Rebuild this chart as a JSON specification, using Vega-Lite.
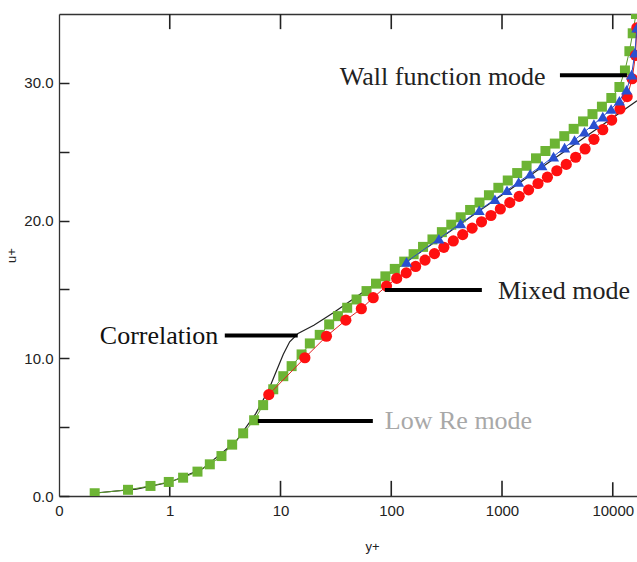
{
  "$schema": "https://vega.github.io/schema/vega-lite/v6.json",
  "width": 578,
  "height": 482,
  "autosize": {"type": "none"},
  "padding": {"left": 59, "top": 14, "right": 0, "bottom": 66},
  "background": "white",
  "config": {
    "view": {"stroke": null},
    "axis": {
      "labelFont": "Liberation Sans",
      "titleFont": "Liberation Sans",
      "labelColor": "#222",
      "titleColor": "#222",
      "domainColor": "#333",
      "tickColor": "#333",
      "domainWidth": 1.3,
      "tickWidth": 1.3,
      "grid": false,
      "labelFontSize": 15,
      "titleFontSize": 13,
      "titleFontWeight": "normal"
    }
  },
  "datasets": {
    "curves": [
      {"series": "Low Re mode", "yplus": 0.21, "uplus": 0.2},
      {"series": "Low Re mode", "yplus": 0.42, "uplus": 0.45},
      {"series": "Low Re mode", "yplus": 0.67, "uplus": 0.73},
      {"series": "Low Re mode", "yplus": 0.98, "uplus": 1.02},
      {"series": "Low Re mode", "yplus": 1.32, "uplus": 1.33},
      {"series": "Low Re mode", "yplus": 1.78, "uplus": 1.77},
      {"series": "Low Re mode", "yplus": 2.3, "uplus": 2.3},
      {"series": "Low Re mode", "yplus": 2.93, "uplus": 2.9},
      {"series": "Low Re mode", "yplus": 3.66, "uplus": 3.73},
      {"series": "Low Re mode", "yplus": 4.6, "uplus": 4.55},
      {"series": "Low Re mode", "yplus": 5.78, "uplus": 5.5},
      {"series": "Low Re mode", "yplus": 6.97, "uplus": 6.6},
      {"series": "Low Re mode", "yplus": 8.6, "uplus": 7.75},
      {"series": "Low Re mode", "yplus": 10.6, "uplus": 8.7},
      {"series": "Low Re mode", "yplus": 12.6, "uplus": 9.43},
      {"series": "Low Re mode", "yplus": 15.5, "uplus": 10.28},
      {"series": "Low Re mode", "yplus": 18.4, "uplus": 11.08},
      {"series": "Low Re mode", "yplus": 22.6, "uplus": 11.7},
      {"series": "Low Re mode", "yplus": 27.5, "uplus": 12.46},
      {"series": "Low Re mode", "yplus": 33, "uplus": 13.06},
      {"series": "Low Re mode", "yplus": 40, "uplus": 13.67},
      {"series": "Low Re mode", "yplus": 48.6, "uplus": 14.27},
      {"series": "Low Re mode", "yplus": 59.8, "uplus": 14.88},
      {"series": "Low Re mode", "yplus": 72.8, "uplus": 15.42},
      {"series": "Low Re mode", "yplus": 88.5, "uplus": 15.95},
      {"series": "Low Re mode", "yplus": 107.6, "uplus": 16.49},
      {"series": "Low Re mode", "yplus": 130.9, "uplus": 17.02},
      {"series": "Low Re mode", "yplus": 159.2, "uplus": 17.56},
      {"series": "Low Re mode", "yplus": 193.6, "uplus": 18.09},
      {"series": "Low Re mode", "yplus": 235.5, "uplus": 18.63},
      {"series": "Low Re mode", "yplus": 286.4, "uplus": 19.16},
      {"series": "Low Re mode", "yplus": 348.3, "uplus": 19.7},
      {"series": "Low Re mode", "yplus": 423.6, "uplus": 20.24},
      {"series": "Low Re mode", "yplus": 515.2, "uplus": 20.77},
      {"series": "Low Re mode", "yplus": 626.6, "uplus": 21.31},
      {"series": "Low Re mode", "yplus": 762.1, "uplus": 21.84},
      {"series": "Low Re mode", "yplus": 926.8, "uplus": 22.38},
      {"series": "Low Re mode", "yplus": 1127, "uplus": 22.91},
      {"series": "Low Re mode", "yplus": 1371, "uplus": 23.45},
      {"series": "Low Re mode", "yplus": 1667, "uplus": 23.98},
      {"series": "Low Re mode", "yplus": 2028, "uplus": 24.52},
      {"series": "Low Re mode", "yplus": 2466, "uplus": 25.05},
      {"series": "Low Re mode", "yplus": 2999, "uplus": 25.59},
      {"series": "Low Re mode", "yplus": 3648, "uplus": 26.13},
      {"series": "Low Re mode", "yplus": 4436, "uplus": 26.66},
      {"series": "Low Re mode", "yplus": 5395, "uplus": 27.2},
      {"series": "Low Re mode", "yplus": 6561, "uplus": 27.73},
      {"series": "Low Re mode", "yplus": 7980, "uplus": 28.27},
      {"series": "Low Re mode", "yplus": 9705, "uplus": 28.9},
      {"series": "Low Re mode", "yplus": 11482, "uplus": 29.7},
      {"series": "Low Re mode", "yplus": 12882, "uplus": 30.9},
      {"series": "Low Re mode", "yplus": 14125, "uplus": 32.3},
      {"series": "Low Re mode", "yplus": 15136, "uplus": 33.6},
      {"series": "Low Re mode", "yplus": 16218, "uplus": 35.0},
      {"series": "Mixed mode", "yplus": 7.84, "uplus": 7.36},
      {"series": "Mixed mode", "yplus": 16.6, "uplus": 10.04},
      {"series": "Mixed mode", "yplus": 26, "uplus": 11.6},
      {"series": "Mixed mode", "yplus": 38.9, "uplus": 12.77},
      {"series": "Mixed mode", "yplus": 53.7, "uplus": 13.6},
      {"series": "Mixed mode", "yplus": 68.7, "uplus": 14.4},
      {"series": "Mixed mode", "yplus": 90.6, "uplus": 15.24},
      {"series": "Mixed mode", "yplus": 112, "uplus": 15.8},
      {"series": "Mixed mode", "yplus": 136.5, "uplus": 16.2},
      {"series": "Mixed mode", "yplus": 166, "uplus": 16.67},
      {"series": "Mixed mode", "yplus": 201.8, "uplus": 17.13},
      {"series": "Mixed mode", "yplus": 245.5, "uplus": 17.6},
      {"series": "Mixed mode", "yplus": 298.5, "uplus": 18.06},
      {"series": "Mixed mode", "yplus": 363.1, "uplus": 18.52},
      {"series": "Mixed mode", "yplus": 441.6, "uplus": 18.98},
      {"series": "Mixed mode", "yplus": 537, "uplus": 19.45},
      {"series": "Mixed mode", "yplus": 653.1, "uplus": 19.91},
      {"series": "Mixed mode", "yplus": 794.3, "uplus": 20.37},
      {"series": "Mixed mode", "yplus": 966, "uplus": 20.84},
      {"series": "Mixed mode", "yplus": 1175, "uplus": 21.3},
      {"series": "Mixed mode", "yplus": 1429, "uplus": 21.76},
      {"series": "Mixed mode", "yplus": 1738, "uplus": 22.23},
      {"series": "Mixed mode", "yplus": 2113, "uplus": 22.69},
      {"series": "Mixed mode", "yplus": 2570, "uplus": 23.15},
      {"series": "Mixed mode", "yplus": 3126, "uplus": 23.62},
      {"series": "Mixed mode", "yplus": 3802, "uplus": 24.08},
      {"series": "Mixed mode", "yplus": 4624, "uplus": 24.6},
      {"series": "Mixed mode", "yplus": 5623, "uplus": 25.2},
      {"series": "Mixed mode", "yplus": 6761, "uplus": 25.9},
      {"series": "Mixed mode", "yplus": 8128, "uplus": 26.6},
      {"series": "Mixed mode", "yplus": 9772, "uplus": 27.3},
      {"series": "Mixed mode", "yplus": 11614, "uplus": 28.1},
      {"series": "Mixed mode", "yplus": 13490, "uplus": 29.0},
      {"series": "Mixed mode", "yplus": 14962, "uplus": 30.3},
      {"series": "Mixed mode", "yplus": 16032, "uplus": 32.0},
      {"series": "Mixed mode", "yplus": 16500, "uplus": 34.0},
      {"series": "Wall function mode", "yplus": 137.4, "uplus": 17.0},
      {"series": "Wall function mode", "yplus": 269.2, "uplus": 18.68},
      {"series": "Wall function mode", "yplus": 422.7, "uplus": 19.8},
      {"series": "Wall function mode", "yplus": 622.3, "uplus": 20.75},
      {"series": "Wall function mode", "yplus": 863, "uplus": 21.55},
      {"series": "Wall function mode", "yplus": 1109, "uplus": 22.2},
      {"series": "Wall function mode", "yplus": 1413, "uplus": 22.8},
      {"series": "Wall function mode", "yplus": 1799, "uplus": 23.4},
      {"series": "Wall function mode", "yplus": 2291, "uplus": 24.0},
      {"series": "Wall function mode", "yplus": 2917, "uplus": 24.65},
      {"series": "Wall function mode", "yplus": 3673, "uplus": 25.3},
      {"series": "Wall function mode", "yplus": 4519, "uplus": 25.85},
      {"series": "Wall function mode", "yplus": 5559, "uplus": 26.45},
      {"series": "Wall function mode", "yplus": 6761, "uplus": 27.0},
      {"series": "Wall function mode", "yplus": 8128, "uplus": 27.55},
      {"series": "Wall function mode", "yplus": 9661, "uplus": 28.1},
      {"series": "Wall function mode", "yplus": 11482, "uplus": 28.7},
      {"series": "Wall function mode", "yplus": 13335, "uplus": 29.5},
      {"series": "Wall function mode", "yplus": 14791, "uplus": 30.6},
      {"series": "Wall function mode", "yplus": 15849, "uplus": 32.2},
      {"series": "Wall function mode", "yplus": 16500, "uplus": 34.0}
    ],
    "corr": [
      {"yplus": 0.2, "uplus": 0.2},
      {"yplus": 0.5, "uplus": 0.5},
      {"yplus": 1, "uplus": 1},
      {"yplus": 2, "uplus": 2},
      {"yplus": 4, "uplus": 4},
      {"yplus": 6, "uplus": 6},
      {"yplus": 7.84, "uplus": 7.74},
      {"yplus": 9.2, "uplus": 9.1},
      {"yplus": 10.6, "uplus": 10.3},
      {"yplus": 12.1, "uplus": 11.2},
      {"yplus": 14.4, "uplus": 11.8},
      {"yplus": 20, "uplus": 12.4},
      {"yplus": 30, "uplus": 13.3},
      {"yplus": 50, "uplus": 14.54},
      {"yplus": 100, "uplus": 16.23},
      {"yplus": 200, "uplus": 17.92},
      {"yplus": 500, "uplus": 20.16},
      {"yplus": 1000, "uplus": 21.85},
      {"yplus": 2000, "uplus": 23.54},
      {"yplus": 5000, "uplus": 25.77},
      {"yplus": 10000, "uplus": 27.46},
      {"yplus": 16550, "uplus": 28.7}
    ],
    "xticks": [
      {"edge": "bottom", "yplus": 1, "from": 0, "to": 1.1},
      {"edge": "bottom", "yplus": 10, "from": 0, "to": 1.1},
      {"edge": "bottom", "yplus": 100, "from": 0, "to": 1.1},
      {"edge": "bottom", "yplus": 1000, "from": 0, "to": 1.1},
      {"edge": "bottom", "yplus": 10000, "from": 0, "to": 1.0},
      {"edge": "top", "yplus": 1, "from": 35, "to": 33.9},
      {"edge": "top", "yplus": 10, "from": 35, "to": 33.9},
      {"edge": "top", "yplus": 100, "from": 35, "to": 33.9},
      {"edge": "top", "yplus": 1000, "from": 35, "to": 33.9},
      {"edge": "top", "yplus": 10000, "from": 35, "to": 33.9}
    ],
    "notes": [
      {"label": "Wall function mode", "yplus": 34.3, "uplus": 30.4},
      {"label": "Mixed mode", "yplus": 918.6, "uplus": 14.9},
      {"label": "Correlation", "yplus": 0.2335, "uplus": 11.63},
      {"label": "Low Re mode", "yplus": 87.5, "uplus": 5.42}
    ],
    "leaders": [
      {"label": "Wall function mode", "from": 3334, "to": 13430, "uplus": 30.55},
      {"label": "Mixed mode", "from": 87.5, "to": 657.7, "uplus": 14.95},
      {"label": "Correlation", "from": 3.14, "to": 14.3, "uplus": 11.66},
      {"label": "Low Re mode", "from": 6.24, "to": 68.2, "uplus": 5.44}
    ]
  },
  "resolve": {"axis": {"x": "independent"}},
  "layer": [
    {
      "data": {"name": "xticks"},
      "mark": {"type": "rule", "color": "#222222", "strokeWidth": 1.6},
      "encoding": {
        "x": {
          "field": "yplus", "type": "quantitative",
          "scale": {"type": "log", "domain": [0.1, 16550], "nice": false},
          "axis": {
            "orient": "bottom",
            "title": "y+",
            "values": [0.1, 1, 10, 100, 1000, 10000],
            "labelExpr": "datum.value < 0.5 ? '0' : format(datum.value, 'd')",
            "ticks": false,
            "labelPadding": 7,
            "labelFontSize": 15,
            "titleFontSize": 13,
            "titlePadding": 22,
            "titleX": 313,
            "labelFlush": false,
            "labelOverlap": false
          }
        },
        "y": {
          "field": "from", "type": "quantitative",
          "scale": {"domain": [0, 35], "nice": false},
          "axis": {
            "title": "u+",
            "values": [0, 5, 10, 15, 20, 25, 30],
            "labelExpr": "datum.value % 10 == 0 ? format(datum.value, '.1f') : ''",
            "tickSize": -10,
            "tickWidth": 1.5,
            "tickColor": "#222",
            "labelPadding": 16,
            "labelFontSize": 15,
            "titleFontSize": 13,
            "titlePadding": 5
          }
        },
        "y2": {"field": "to"}
      }
    },
    {
      "data": {"name": "xticks"},
      "mark": {"type": "rule", "strokeWidth": 0},
      "encoding": {
        "x": {
          "field": "yplus", "type": "quantitative",
          "axis": {
            "orient": "top",
            "title": null,
            "values": [1, 10, 100, 1000, 10000],
            "labels": false,
            "ticks": false
          }
        },
        "y": {"field": "from", "type": "quantitative"},
        "y2": {"field": "to"}
      }
    },
    {
      "data": {"name": "corr"},
      "mark": {"type": "line", "color": "#222222", "strokeWidth": 1.2, "clip": true},
      "encoding": {
        "x": {"field": "yplus", "type": "quantitative", "axis": null},
        "y": {"field": "uplus", "type": "quantitative"}
      }
    },
    {
      "data": {"name": "curves"},
      "transform": [{"filter": "datum.series == 'Low Re mode'"}],
      "layer": [
        {"mark": {"type": "line", "color": "#5a9a2a", "strokeWidth": 1, "clip": true}, "encoding": {"x": {"field": "yplus", "type": "quantitative", "axis": null}, "y": {"field": "uplus", "type": "quantitative"}}},
        {"mark": {"type": "point", "shape": "square", "filled": true, "color": "#6cb434", "size": 100, "opacity": 1, "clip": true}, "encoding": {"x": {"field": "yplus", "type": "quantitative", "axis": null}, "y": {"field": "uplus", "type": "quantitative"}}}
      ]
    },
    {
      "data": {"name": "curves"},
      "transform": [{"filter": "datum.series == 'Mixed mode'"}],
      "layer": [
        {"mark": {"type": "line", "color": "#e02020", "strokeWidth": 1, "clip": true}, "encoding": {"x": {"field": "yplus", "type": "quantitative", "axis": null}, "y": {"field": "uplus", "type": "quantitative"}}},
        {"mark": {"type": "point", "shape": "circle", "filled": true, "color": "#ff1010", "size": 125, "opacity": 1, "clip": true}, "encoding": {"x": {"field": "yplus", "type": "quantitative", "axis": null}, "y": {"field": "uplus", "type": "quantitative"}}}
      ]
    },
    {
      "data": {"name": "curves"},
      "transform": [{"filter": "datum.series == 'Wall function mode'"}],
      "layer": [
        {"mark": {"type": "line", "color": "#2a4cc8", "strokeWidth": 1, "clip": true}, "encoding": {"x": {"field": "yplus", "type": "quantitative", "axis": null}, "y": {"field": "uplus", "type": "quantitative"}}},
        {"mark": {"type": "point", "shape": "triangle-up", "filled": true, "color": "#2a50d0", "size": 125, "opacity": 1, "clip": true}, "encoding": {"x": {"field": "yplus", "type": "quantitative", "axis": null}, "y": {"field": "uplus", "type": "quantitative"}}}
      ]
    },
    {
      "data": {"name": "leaders"},
      "mark": {"type": "rule", "color": "#000000", "strokeWidth": 4},
      "encoding": {
        "x": {"field": "from", "type": "quantitative", "axis": null},
        "x2": {"field": "to"},
        "y": {"field": "uplus", "type": "quantitative"}
      }
    },
    {
      "data": {"name": "notes"},
      "mark": {"type": "text", "align": "left", "baseline": "middle", "font": "Liberation Serif", "fontSize": 26},
      "encoding": {
        "x": {"field": "yplus", "type": "quantitative", "axis": null},
        "y": {"field": "uplus", "type": "quantitative"},
        "text": {"field": "label"},
        "color": {
          "field": "label", "type": "nominal", "legend": null,
          "scale": {
            "domain": ["Wall function mode", "Mixed mode", "Correlation", "Low Re mode"],
            "range": ["#222222", "#222222", "#111111", "#a8a8a8"]
          }
        }
      }
    }
  ]
}
